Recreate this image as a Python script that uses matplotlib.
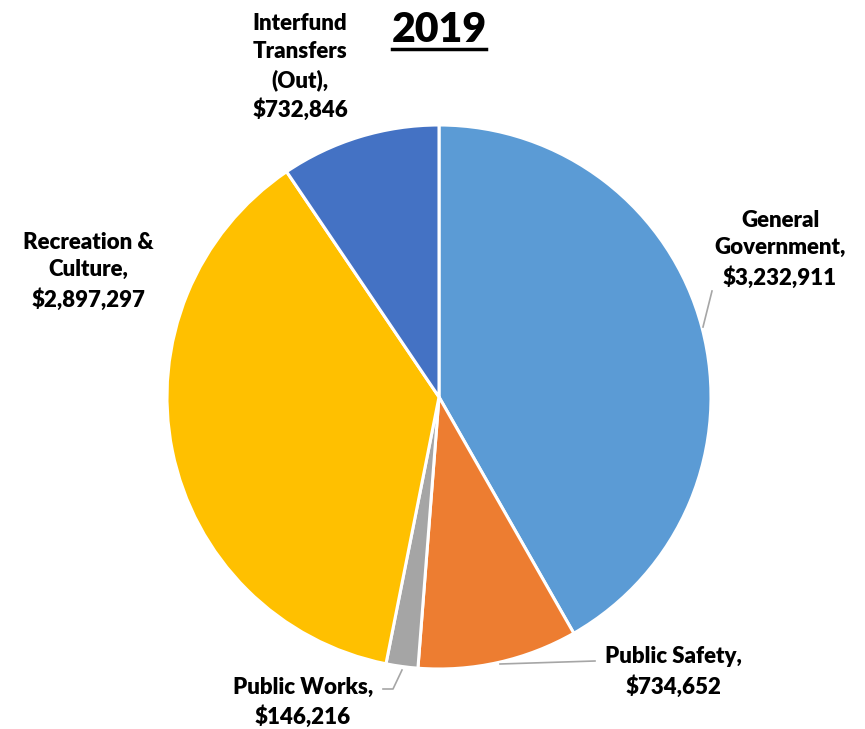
import matplotlib.pyplot as plt
from matplotlib.lines import Line2D

# data
categories = ['General\nGovernment', 'Public Safety', 'Public Works',
              'Recreation &\nCulture', 'Interfund\nTransfers\n(Out)']
values = [3232911, 734652, 146216, 2897297, 732846]
colors = ['#5B9BD5', '#ED7D31', '#A5A5A5', '#FFC000', '#4472C4']
title = '2019'

# layout (pixel coords, y from top)
W, H = 865, 729
cx, cy, rad = 439, 397, 272
label_pos = [(780, 249), (673, 672), (303, 702), (88, 271), (300, 67)]
leaders = [
    [(703, 327), (712, 291)],
    [(500, 664), (595, 661)],
    [(402, 670), (393, 689), (383, 689)],
    None,
    None,
]

plt.rcParams['font.family'] = ['Lato', 'DejaVu Sans']

fig = plt.figure(figsize=(W / 100, H / 100), dpi=100)
ax = fig.add_axes([0, 0, 1, 1])

ax.pie(values, colors=colors, startangle=90, counterclock=False,
       center=(cx, H - cy), radius=rad,
       wedgeprops=dict(edgecolor='white', linewidth=2.2))
ax.set_xlim(0, W)
ax.set_ylim(0, H)
ax.set_aspect('equal')
ax.axis('off')

for cat, v, (px, py), ld in zip(categories, values, label_pos, leaders):
    txt = cat + ',\n${:,}'.format(v)
    ax.text(px, H - py, txt, ha='center', va='center', fontsize=16,
            fontweight='heavy', linespacing=1.4, color='black')
    if ld is not None:
        xs = [p[0] for p in ld]
        ys = [H - p[1] for p in ld]
        ax.add_line(Line2D(xs, ys, color='#A6A6A6', linewidth=1.2))

ax.text(439, H - 30, title, ha='center', va='center', fontsize=29.5,
        fontweight='heavy', color='black')
ax.add_line(Line2D([392, 486], [H - 49, H - 49], color='black', linewidth=2.5))

fig.savefig('out.png', dpi=100)
